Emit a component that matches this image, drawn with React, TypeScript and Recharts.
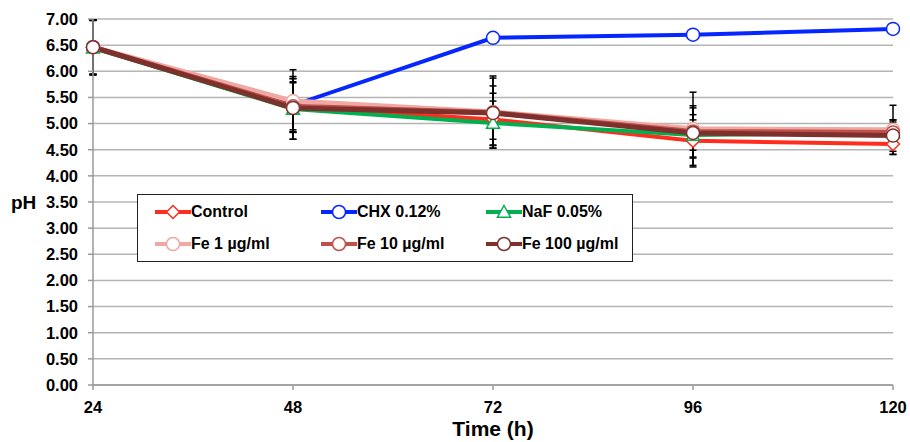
import React from 'react';
import { LineChart, Line, XAxis, YAxis, CartesianGrid, ErrorBar, Legend } from 'recharts';

const times = [24, 48, 72, 96, 120];
const yTicks = [0, 0.5, 1, 1.5, 2, 2.5, 3, 3.5, 4, 4.5, 5, 5.5, 6, 6.5, 7];

const control = [6.46, 5.32, 5.08, 4.67, 4.61];
const controlSd = [0.52, 0.48, 0.5, 0.5, 0.2];
const chx = [6.46, 5.35, 6.64, 6.7, 6.81];
const chxSd = [0.52, 0.51, 0.05, 0.04, 0.04];
const naf = [6.45, 5.28, 5.01, 4.78, 4.83];
const nafSd = [0.52, 0.58, 0.42, 0.29, 0.2];
const fe1 = [6.46, 5.43, 5.22, 4.9, 4.88];
const fe1Sd = [0.52, 0.6, 0.69, 0.7, 0.47];
const fe10 = [6.46, 5.33, 5.21, 4.85, 4.83];
const fe10Sd = [0.52, 0.45, 0.51, 0.49, 0.24];
const fe100 = [6.46, 5.3, 5.2, 4.82, 4.77];
const fe100Sd = [0.52, 0.6, 0.67, 0.48, 0.3];

const seriesNames = ['Control', 'CHX 0.12%', 'NaF 0.05%', 'Fe 1 µg/ml', 'Fe 10 µg/ml', 'Fe 100 µg/ml'];

const data = times.map((t, i) => ({
  t,
  control: control[i], controlSd: controlSd[i],
  chx: chx[i], chxSd: chxSd[i],
  naf: naf[i], nafSd: nafSd[i],
  fe1: fe1[i], fe1Sd: fe1Sd[i],
  fe10: fe10[i], fe10Sd: fe10Sd[i],
  fe100: fe100[i], fe100Sd: fe100Sd[i],
}));

const FONT = '"Liberation Sans", Arial, sans-serif';

type Shape = 'circle' | 'diamond' | 'triangle';
const series: { key: string; name: string; color: string; width: number; shape: Shape }[] = [
  { key: 'control', name: seriesNames[0], color: '#FF2D1E', width: 4, shape: 'diamond' },
  { key: 'chx', name: seriesNames[1], color: '#0626FF', width: 4, shape: 'circle' },
  { key: 'naf', name: seriesNames[2], color: '#00B050', width: 4, shape: 'triangle' },
  { key: 'fe1', name: seriesNames[3], color: '#F0A9A2', width: 5, shape: 'circle' },
  { key: 'fe10', name: seriesNames[4], color: '#BF504C', width: 5, shape: 'circle' },
  { key: 'fe100', name: seriesNames[5], color: '#7E302C', width: 5, shape: 'circle' },
];

function marker(shape: Shape, cx: number, cy: number, color: string, key?: any) {
  if (shape === 'diamond') {
    const r = 6.5;
    return <path key={key} d={`M${cx},${cy - r}L${cx + r},${cy}L${cx},${cy + r}L${cx - r},${cy}Z`} fill="#fff" stroke={color} strokeWidth={1.5} />;
  }
  if (shape === 'triangle') {
    const r = 6.5;
    return <path key={key} d={`M${cx},${cy - r}L${cx + r},${cy + r * 0.8}L${cx - r},${cy + r * 0.8}Z`} fill="#fff" stroke={color} strokeWidth={1.5} />;
  }
  return <circle key={key} cx={cx} cy={cy} r={6.5} fill="#fff" stroke={color} strokeWidth={1.5} />;
}

const LegendBox = () => {
  const cols = [17, 183, 348];
  const rows = [17, 49];
  return (
    <div style={{ position: 'relative', width: 496, height: 68, border: '1px solid #222', background: '#fff', boxSizing: 'border-box', fontFamily: FONT }}>
      {series.map((s, i) => {
        const x = cols[i % 3];
        const y = rows[Math.floor(i / 3)];
        return (
          <div key={s.key} style={{ position: 'absolute', left: x, top: y - 10, height: 20, display: 'flex', alignItems: 'center' }}>
            <svg width={36} height={20} style={{ display: 'block' }}>
              <line x1={0} y1={10} x2={36} y2={10} stroke={s.color} strokeWidth={4} />
              {marker(s.shape, 18, 10, s.color)}
            </svg>
            <span style={{ fontWeight: 'bold', fontSize: 16, color: '#000', whiteSpace: 'nowrap' }}>{s.name}</span>
          </div>
        );
      })}
    </div>
  );
};

export default function App() {
  return (
    <div style={{ position: 'absolute', left: 0, top: 0, width: 910, height: 442, background: '#fff' }}>
      <LineChart width={910} height={442} data={data} margin={{ top: 19, right: 17, left: 0, bottom: 0 }}>
        <CartesianGrid vertical={false} stroke="#b4b4b4" strokeWidth={1.5} />
        <XAxis
          dataKey="t"
          type="number"
          domain={[24, 120]}
          ticks={times}
          interval={0}
          height={57}
          stroke="#9a9a9a"
          strokeWidth={1.5}
          tickSize={5}
          tickMargin={11}
          tick={{ fill: '#000', fontSize: 16.5, fontWeight: 'bold', fontFamily: FONT }}
          label={{ value: 'Time (h)', position: 'insideBottom', offset: 6, style: { fill: '#000', fontSize: 21, fontWeight: 'bold', fontFamily: FONT } }}
        />
        <YAxis
          type="number"
          domain={[0, 7]}
          ticks={yTicks}
          interval={0}
          width={93}
          stroke="#9a9a9a"
          strokeWidth={1.5}
          tickSize={5}
          tickMargin={10}
          tickFormatter={(v: number) => v.toFixed(2)}
          tick={{ fill: '#000', fontSize: 16.5, fontWeight: 'bold', fontFamily: FONT }}
          label={{ value: 'pH', position: 'insideLeft', offset: 11, style: { fill: '#000', fontSize: 19, fontWeight: 'bold', fontFamily: FONT } }}
        />
        <Legend
          layout="horizontal"
          verticalAlign="middle"
          align="center"
          content={() => <LegendBox />}
          wrapperStyle={{ position: 'absolute', left: 137, top: 194, width: 496, height: 68 }}
        />
        {series.map((s) => (
          <Line
            key={s.key}
            dataKey={s.key}
            name={s.name}
            stroke={s.color}
            strokeWidth={s.width}
            isAnimationActive={false}
            dot={(p: any) => marker(s.shape, p.cx, p.cy, s.color, `${s.key}-${p.index}`)}
            activeDot={false}
          >
            <ErrorBar dataKey={`${s.key}Sd`} direction="y" width={3.5} stroke="#000" strokeWidth={1.5} />
          </Line>
        ))}
      </LineChart>
    </div>
  );
}
